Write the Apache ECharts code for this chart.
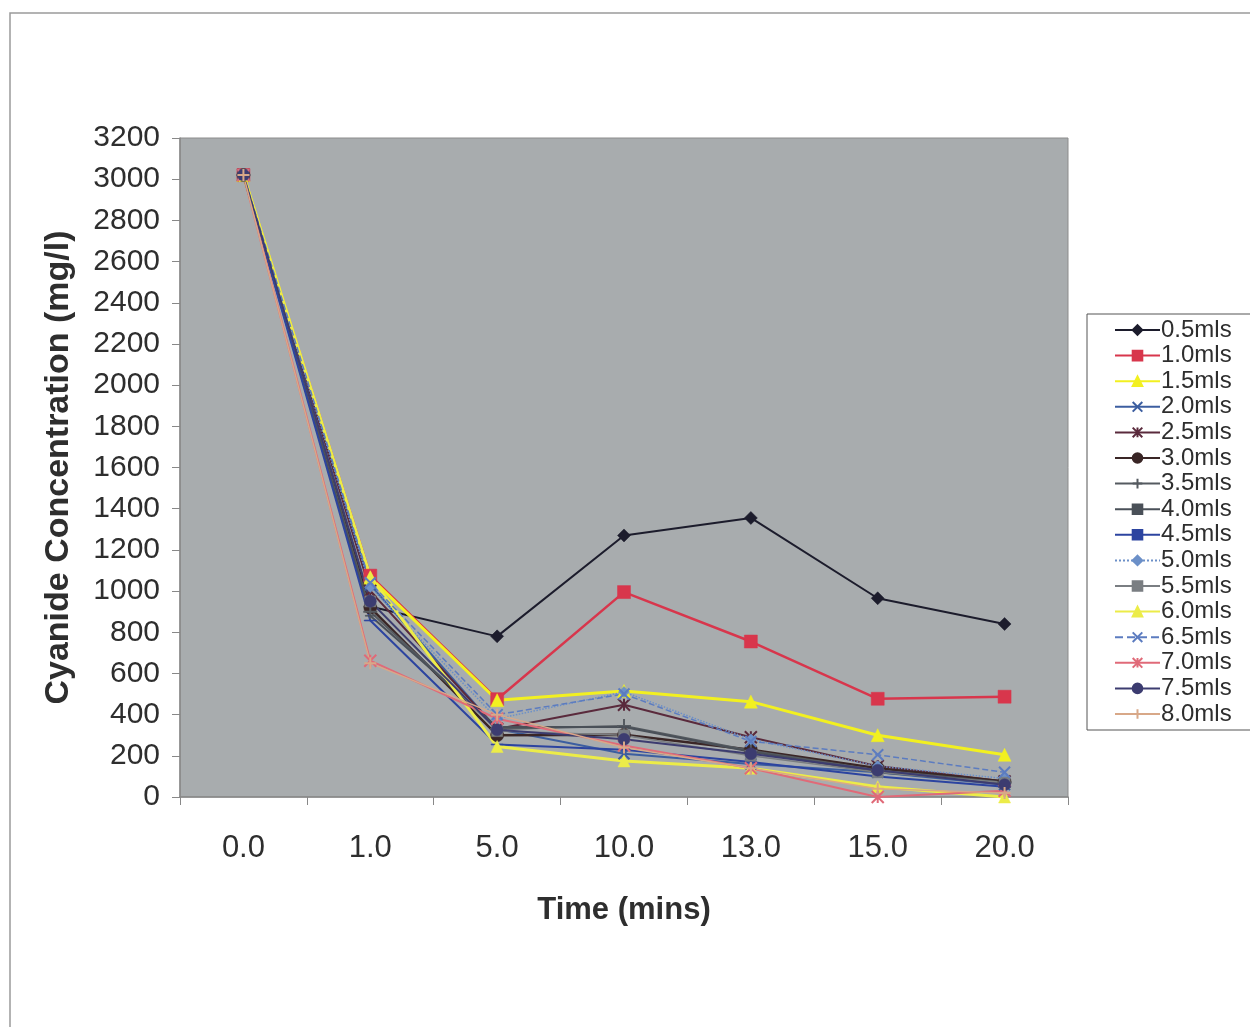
<!DOCTYPE html>
<html>
<head>
<meta charset="utf-8">
<script src="https://cdn.jsdelivr.net/npm/echarts@6/dist/echarts.min.js"></script>
<style>
html,body{margin:0;padding:0;background:#fff;}
#c{width:1250px;height:1027px;}
</style>
</head>
<body>
<div id="c"></div>
<script>
var categories = ['0.0','1.0','5.0','10.0','13.0','15.0','20.0'];
var yTicks = [0,200,400,600,800,1000,1200,1400,1600,1800,2000,2200,2400,2600,2800,3000,3200];
var seriesNames = ['0.5mls','1.0mls','1.5mls','2.0mls','2.5mls','3.0mls','3.5mls','4.0mls','4.5mls','5.0mls','5.5mls','6.0mls','6.5mls','7.0mls','7.5mls','8.0mls'];
var s05 = [3020, 925, 780, 1270, 1355, 965, 840];
var s10 = [3020, 1075, 475, 995, 755, 477, 487];
var s15 = [3020, 1065, 470, 515, 463, 300, 205];
var s20 = [3020, 1030, 330, 210, 160, 120, 60];
var s25 = [3020, 1000, 330, 448, 290, 150, 75];
var s30 = [3020, 920, 300, 302, 230, 140, 75];
var s35 = [3020, 900, 330, 345, 225, 130, 70];
var s40 = [3020, 880, 340, 340, 220, 120, 70];
var s45 = [3020, 857, 255, 230, 170, 100, 50];
var s50 = [3020, 1020, 380, 510, 280, 150, 90];
var s55 = [3020, 950, 320, 300, 200, 120, 70];
var s60 = [3020, 1070, 245, 175, 140, 50, 0];
var s65 = [3020, 1040, 400, 500, 270, 205, 120];
var s70 = [3020, 662, 380, 250, 140, 0, 30];
var s75 = [3020, 950, 326, 280, 210, 130, 60];
var s80 = [3020, 650, 400, 240, 140, 40, 20];
var allValues = [s05,s10,s15,s20,s25,s30,s35,s40,s45,s50,s55,s60,s65,s70,s75,s80];

var colors = ['#1c1c2c','#d8364c','#f2f020','#3c5ea0','#5a2a3c','#3a2626','#555a60','#4a5058','#2c44a0','#6c90c8','#7a7e82','#ecec48','#5c7cc0','#e06a78','#3c3c70','#d8a888'];
var X = 'path://M0,0L10,10M10,0L0,10';
var STAR = 'path://M5,0L5,10M0,0L10,10M10,0L0,10';
var PLUS = 'path://M5,0L5,10M0,5L10,5';
var DASH = 'path://M0,0L10,0L10,3L0,3Z';
var symbols = ['diamond','rect','triangle',X,STAR,'circle',PLUS,DASH,DASH,'diamond','rect','triangle',X,STAR,'circle',PLUS];
var sizes = [13,13,13,11,12,13,14,[10,3],[12,3],11,11,12,11,12,12,12];
var dashed = [false,false,false,false,false,false,false,false,false,'dotted',false,false,'dashed',false,false,false];
var widths = [2,2.5,3,2,2,2.5,2,2,2,1.5,1.5,3,1.5,2,2,1.5];

var series = seriesNames.map(function(n,i){
  var isLine = typeof symbols[i]==='string' && (symbols[i]===X || symbols[i]===STAR || symbols[i]===PLUS);
  return {
    name:n, type:'line', data:allValues[i],
    symbol:symbols[i], symbolSize:sizes[i], symbolKeepAspect:true,
    lineStyle:{color:colors[i], width:widths[i], type:dashed[i]||'solid'},
    itemStyle:{color:colors[i], borderColor:colors[i], borderWidth:isLine?2:0.5}
  };
});

var chart = echarts.init(document.getElementById('c'));
chart.setOption({
  animation:false,
  backgroundColor:'#ffffff',
  graphic:[{type:'rect', shape:{x:10,y:13,width:1260,height:1040}, style:{fill:'none', stroke:'#9a9a9a', lineWidth:1.5}, z:-1}],
  grid:{left:180, top:138, right:182, bottom:230, show:true, backgroundColor:'#a8acae', borderColor:'#8c8c8c', borderWidth:1},
  legend:{
    orient:'vertical', left:1087, top:314,
    data:seriesNames,
    backgroundColor:'#ffffff', borderColor:'#555', borderWidth:1,
    padding:[4,30,4,27],
    itemWidth:45, itemHeight:12, itemGap:1.6,
    textStyle:{fontFamily:'Liberation Sans', fontSize:24, color:'#2e2e2e', lineHeight:24, padding:[0,0,0,-4]}
  },
  xAxis:{
    type:'category', data:categories, boundaryGap:true,
    name:'Time (mins)', nameLocation:'middle', nameGap:98,
    nameTextStyle:{fontFamily:'Liberation Sans', fontSize:31, fontWeight:'bold', color:'#2e2e2e'},
    axisLine:{lineStyle:{color:'#888', width:1.5}},
    axisTick:{show:true, inside:false, length:8, lineStyle:{color:'#888'}},
    axisLabel:{fontFamily:'Liberation Sans', fontSize:31, color:'#2e2e2e', margin:36},
    splitLine:{show:false}
  },
  yAxis:{
    type:'value', min:0, max:3200, interval:200,
    name:'Cyanide Concentration (mg/l)', nameLocation:'middle', nameGap:104,
    nameTextStyle:{fontFamily:'Liberation Sans', fontSize:34, fontWeight:'bold', color:'#2e2e2e'},
    axisLine:{show:true, lineStyle:{color:'#888', width:1.5}},
    axisTick:{show:true, inside:false, length:8, lineStyle:{color:'#888'}},
    axisLabel:{fontFamily:'Liberation Sans', fontSize:30, color:'#2e2e2e', margin:20,
      formatter:function(v){ return yTicks.indexOf(v)>=0 ? String(v) : ''; }},
    splitLine:{show:false}
  },
  series:series
});
</script>
</body>
</html>
